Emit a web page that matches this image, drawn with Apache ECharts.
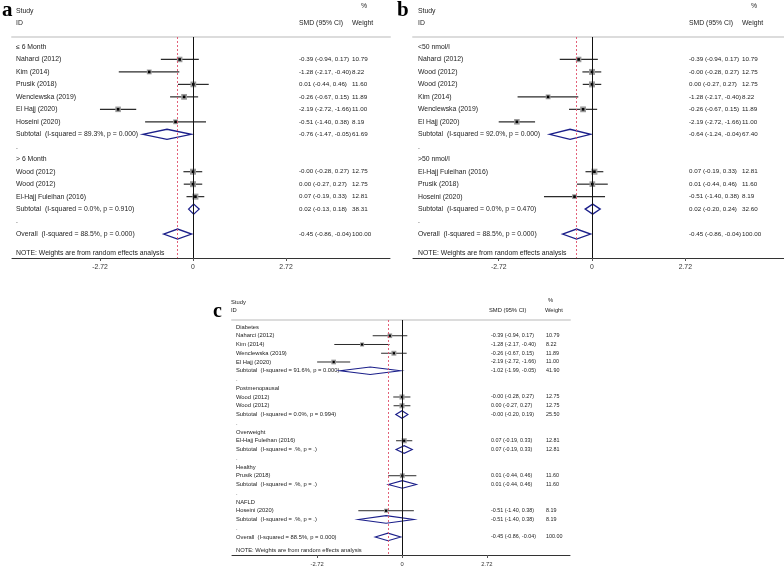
<!DOCTYPE html>
<html><head><meta charset="utf-8">
<script src="https://cdn.jsdelivr.net/npm/echarts@6/dist/echarts.min.js"></script>
<style>html,body{margin:0;padding:0;background:#fff}#c{width:784px;height:567px}</style>
</head><body><div id="c"></div>
<script>
// ---------------- DATA ----------------
const tickValues = [-2.72, 0, 2.72];
const overallSMD = -0.45;

// Panel a: duration
const aLabels = ["≤ 6 Month","Naharci (2012)","Kim (2014)","Prusik (2018)","Wenclewska (2019)","El Hajj (2020)","Hoseini (2020)","Subtotal  (I-squared = 89.3%, p = 0.000)",".","> 6 Month","Wood (2012)","Wood (2012)","El-Hajj Fuleihan (2016)","Subtotal  (I-squared = 0.0%, p = 0.910)",".","Overall  (I-squared = 88.5%, p = 0.000)"];
const aKinds = ["g","s","s","s","s","s","s","t","b","g","s","s","s","t","b","t"];
const aEst = [null,-0.39,-1.28,0.01,-0.26,-2.19,-0.51,-0.76,null,null,-0.00,0.00,0.07,0.02,null,-0.45];
const aLo  = [null,-0.94,-2.17,-0.44,-0.67,-2.72,-1.40,-1.47,null,null,-0.28,-0.27,-0.19,-0.13,null,-0.86];
const aHi  = [null,0.17,-0.40,0.46,0.15,-1.66,0.38,-0.05,null,null,0.27,0.27,0.33,0.18,null,-0.04];
const aWeight = [null,10.79,8.22,11.60,11.89,11.00,8.19,61.69,null,null,12.75,12.75,12.81,38.31,null,100.00];

// Panel b: baseline vitamin D
const bLabels = ["<50 nmol/l","Naharci (2012)","Wood (2012)","Wood (2012)","Kim (2014)","Wenclewska (2019)","El Hajj (2020)","Subtotal  (I-squared = 92.0%, p = 0.000)",".",">50 nmol/l","El-Hajj Fuleihan (2016)","Prusik (2018)","Hoseini (2020)","Subtotal  (I-squared = 0.0%, p = 0.470)",".","Overall  (I-squared = 88.5%, p = 0.000)"];
const bKinds = ["g","s","s","s","s","s","s","t","b","g","s","s","s","t","b","t"];
const bEst = [null,-0.39,-0.00,0.00,-1.28,-0.26,-2.19,-0.64,null,null,0.07,0.01,-0.51,0.02,null,-0.45];
const bLo  = [null,-0.94,-0.28,-0.27,-2.17,-0.67,-2.72,-1.24,null,null,-0.19,-0.44,-1.40,-0.20,null,-0.86];
const bHi  = [null,0.17,0.27,0.27,-0.40,0.15,-1.66,-0.04,null,null,0.33,0.46,0.38,0.24,null,-0.04];
const bWeight = [null,10.79,12.75,12.75,8.22,11.89,11.00,67.40,null,null,12.81,11.60,8.19,32.60,null,100.00];

// Panel c: population
const cLabels = ["Diabetes","Naharci (2012)","Kim (2014)","Wenclewska (2019)","El Hajj (2020)","Subtotal  (I-squared = 91.6%, p = 0.000)",".","Postmenopausal","Wood (2012)","Wood (2012)","Subtotal  (I-squared = 0.0%, p = 0.994)",".","Overweight","El-Hajj Fuleihan (2016)","Subtotal  (I-squared = .%, p = .)",".","Healthy","Prusik (2018)","Subtotal  (I-squared = .%, p = .)",".","NAFLD","Hoseini (2020)","Subtotal  (I-squared = .%, p = .)",".","Overall  (I-squared = 88.5%, p = 0.000)"];
const cKinds = ["g","s","s","s","s","t","b","g","s","s","t","b","g","s","t","b","g","s","t","b","g","s","t","b","t"];
const cEst = [null,-0.39,-1.28,-0.26,-2.19,-1.02,null,null,-0.00,0.00,-0.00,null,null,0.07,0.07,null,null,0.01,0.01,null,null,-0.51,-0.51,null,-0.45];
const cLo  = [null,-0.94,-2.17,-0.67,-2.72,-1.99,null,null,-0.28,-0.27,-0.20,null,null,-0.19,-0.19,null,null,-0.44,-0.44,null,null,-1.40,-1.40,null,-0.86];
const cHi  = [null,0.17,-0.40,0.15,-1.66,-0.05,null,null,0.27,0.27,0.19,null,null,0.33,0.33,null,null,0.46,0.46,null,null,0.38,0.38,null,-0.04];
const cWeight = [null,10.79,8.22,11.89,11.00,41.90,null,null,12.75,12.75,25.50,null,null,12.81,12.81,null,null,11.60,11.60,null,null,8.19,8.19,null,100.00];

const noteText = "NOTE: Weights are from random effects analysis";

// ---------------- LAYOUT ----------------
const FONT = '"Liberation Sans", Arial, Helvetica, sans-serif';
const SERIF = '"Liberation Serif", "Times New Roman", serif';
const TXT = '#222';
const panels = [
  {labels:aLabels,kinds:aKinds,est:aEst,lo:aLo,hi:aHi,w:aWeight,
   grid:{left:12,top:37,width:378,height:221},xMin:-5.292,xMax:5.760,yMin:-0.8,yMax:16.92,
   labelX:16,smdX:299,wX:352,fs:6.85,vfs:6.25,box:1.68,dot:2.6,dh:5,lw:1.2},
  {labels:bLabels,kinds:bKinds,est:bEst,lo:bLo,hi:bHi,w:bWeight,
   grid:{left:413,top:37,width:371,height:221},xMin:-5.219,xMax:5.598,yMin:-0.8,yMax:16.92,
   labelX:418,smdX:689,wX:742,fs:6.85,vfs:6.25,box:1.68,dot:2.6,dh:5,lw:1.2},
  {labels:cLabels,kinds:cKinds,est:cEst,lo:cLo,hi:cHi,w:cWeight,
   grid:{left:232,top:320,width:338,height:235},xMin:-5.449,xMax:5.385,yMin:-0.8,yMax:26.06,
   labelX:236,smdX:491,wX:546,fs:5.8,vfs:5.4,box:1.42,dot:2.2,dh:3.8,lw:1}
];

function fmt(v){ return ((v<0||Object.is(v,-0))?'-':'') + Math.abs(v).toFixed(2); }

function makeRender(p){
  return function(params, api){
    const i = params.dataIndex;
    const row = api.value(1);
    const y = api.coord([0,row])[1];
    const font = p.fs + 'px ' + FONT;
    const vfont = p.vfs + 'px ' + FONT;
    const ch = [];
    if (i >= p.labels.length) {
      ch.push({type:'text',style:{x:p.labelX,y:y,text:noteText,font:font,fill:TXT,verticalAlign:'middle'}});
      return {type:'group',children:ch};
    }
    ch.push({type:'text',style:{x:p.labelX,y:y,text:p.labels[i],font:font,fill:TXT,verticalAlign:'middle'}});
    const e = p.est[i];
    if (e !== null) {
      const pe = api.coord([e,row]), pl = api.coord([p.lo[i],row]), ph = api.coord([p.hi[i],row]);
      if (p.kinds[i] === 's') {
        ch.push({type:'line',shape:{x1:pl[0],y1:y,x2:ph[0],y2:y},style:{stroke:'#2b2b2b',lineWidth:p.lw}});
        const s = p.box*Math.sqrt(p.w[i]);
        ch.push({type:'rect',shape:{x:pe[0]-s/2,y:y-s/2,width:s,height:s},style:{fill:'#9a9a9a'}});
        ch.push({type:'rect',shape:{x:pe[0]-p.dot/2,y:y-p.dot/2,width:p.dot,height:p.dot},style:{fill:'#000'}});
      } else {
        ch.push({type:'polygon',shape:{points:[[pl[0],y],[pe[0],y-p.dh],[ph[0],y],[pe[0],y+p.dh]]},
          style:{fill:'none',stroke:'#1b1f8a',lineWidth:p.lw+0.1}});
      }
      ch.push({type:'text',style:{x:p.smdX,y:y,text:fmt(e)+' ('+fmt(p.lo[i])+', '+fmt(p.hi[i])+')',font:vfont,fill:TXT,verticalAlign:'middle'}});
      ch.push({type:'text',style:{x:p.wX,y:y,text:p.w[i].toFixed(2),font:vfont,fill:TXT,verticalAlign:'middle'}});
    }
    return {type:'group',children:ch};
  };
}

const grids=[], xAxes=[], yAxes=[], series=[];
panels.forEach((p,k)=>{
  grids.push(p.grid);
  xAxes.push({type:'value',gridIndex:k,position:'bottom',min:p.xMin,max:p.xMax,
    axisLine:{onZero:false,lineStyle:{color:'#333',width:1}},
    axisTick:{show:true,length:3,customValues:tickValues,lineStyle:{color:'#555'}},
    axisLabel:{customValues:tickValues,margin:6,fontSize:p.fs,fontFamily:FONT,color:'#333',
      formatter:v=> v===0?'0':v.toFixed(2)},
    splitLine:{show:false}});
  xAxes.push({type:'value',gridIndex:k,position:'top',min:p.xMin,max:p.xMax,
    axisLine:{onZero:false,lineStyle:{color:'#dcdcdc',width:2}},
    axisTick:{show:false},axisLabel:{show:false},splitLine:{show:false}});
  yAxes.push({type:'value',gridIndex:k,inverse:true,min:p.yMin,max:p.yMax,show:false});
  const data = p.labels.map((_,i)=>[p.est[i]===null?0:p.est[i], i]);
  data.push([0, p.labels.length + 0.5]);
  // reference lines: null effect and overall estimate
  series.push({type:'custom',xAxisIndex:2*k,yAxisIndex:k,data:[],renderItem:()=>null,silent:true,
    markLine:{silent:true,symbol:'none',label:{show:false},animation:false,
      lineStyle:{color:'#111',width:1,type:'solid'},data:[{xAxis:0}]}});
  series.push({type:'custom',xAxisIndex:2*k,yAxisIndex:k,data:[],renderItem:()=>null,silent:true,
    markLine:{silent:true,symbol:'none',label:{show:false},animation:false,
      lineStyle:{color:'#e0506a',width:1,type:[2,2],opacity:0.9},data:[{xAxis:overallSMD}]}});
  series.push({type:'custom',xAxisIndex:2*k,yAxisIndex:k,data:data,renderItem:makeRender(p),clip:false,silent:true});
});

function hdr(x,y,t,fs){ return {type:'text',x:x,y:y,style:{text:t,font:fs+'px '+FONT,fill:TXT,verticalAlign:'middle'}}; }
const graphics = [
  {type:'text',x:2,y:21,style:{text:'a',font:'bold 21px '+SERIF,fill:'#000',verticalAlign:'bottom'}},
  {type:'text',x:397,y:21,style:{text:'b',font:'bold 21px '+SERIF,fill:'#000',verticalAlign:'bottom'}},
  {type:'text',x:213,y:322,style:{text:'c',font:'bold 20px '+SERIF,fill:'#000',verticalAlign:'bottom'}},
  hdr(16,11,'Study',6.85), hdr(16,23,'ID',6.85), hdr(361,6,'%',6.85), hdr(299,23,'SMD (95% CI)',6.85), hdr(352,23,'Weight',6.85),
  hdr(418,11,'Study',6.85), hdr(418,23,'ID',6.85), hdr(751,6,'%',6.85), hdr(689,23,'SMD (95% CI)',6.85), hdr(742,23,'Weight',6.85),
  hdr(231,302,'Study',5.8), hdr(231,310,'ID',5.8), hdr(548,300,'%',5.8), hdr(489,310,'SMD (95% CI)',5.8), hdr(545,310,'Weight',5.8)
];

const chart = echarts.init(document.getElementById('c'));
chart.setOption({animation:false,backgroundColor:'#fff',grid:grids,xAxis:xAxes,yAxis:yAxes,series:series,graphic:graphics});
</script></body></html>
